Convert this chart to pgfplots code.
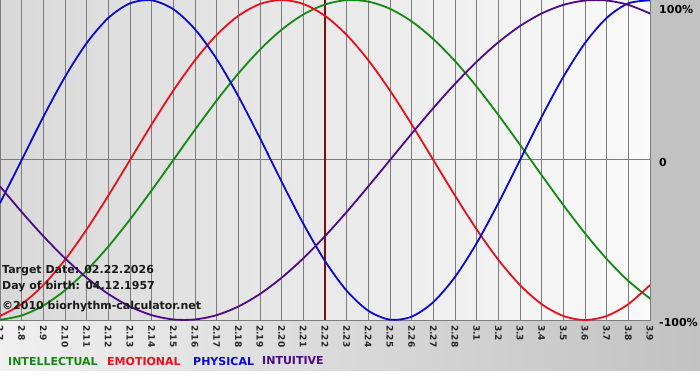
\documentclass[border=0pt]{standalone}
\usepackage{pgfplots}
\pgfplotsset{compat=1.18}
\usepackage{fontspec}
\setmainfont{DejaVu Sans}
\definecolor{cInt}{HTML}{138A13}
\definecolor{cEmo}{HTML}{E8101A}
\definecolor{cPhy}{HTML}{0A0ACC}
\definecolor{cIntu}{HTML}{4E0A86}
\definecolor{cTarget}{HTML}{7A1010}
\definecolor{gridgray}{HTML}{7C7C7C}
\begin{document}
\begin{tikzpicture}[x=1pt,y=1pt]
\fill[white] (0,0) rectangle (700,380);
\shade[left color=black!6, right color=black!24] (0,10) rectangle (700,60);
\fill[black!24] (650,60) rectangle (700,380);
\shade[left color=black!15, right color=black!2] (0,60) rectangle (650,380);
\begin{axis}[
  at={(0pt,60pt)}, anchor=south west,
  width=650pt, height=320pt, scale only axis,
  xmin=0, xmax=30, ymin=-1, ymax=1,
  axis line style={gridgray, line width=1pt},
  tick style={draw=none},
  xtick={0,...,30},
  xticklabels={2.7,2.8,2.9,2.10,2.11,2.12,2.13,2.14,2.15,2.16,2.17,2.18,2.19,2.20,2.21,2.22,2.23,2.24,2.25,2.26,2.27,2.28,3.1,3.2,3.3,3.4,3.5,3.6,3.7,3.8,3.9},
  xmajorgrids,
  ytick={-1,0},
  yticklabels={-100\%,0},
  ymajorgrids,
  extra y ticks={0.955},
  extra y tick labels={100\%},
  extra y tick style={ymajorgrids=false},
  grid style={gridgray, line width=1pt},
  yticklabel pos=right,
  yticklabel style={anchor=west, inner sep=0pt, xshift=9pt, yshift=-2pt, font=\bfseries\fontsize{11}{13}\selectfont},
  xticklabel style={rotate=-90, anchor=west, inner sep=0pt, font=\bfseries\fontsize{9}{10}\selectfont, text=black!85},
  xticklabel shift=5pt,
  /pgf/number format/assume math mode=true,
]
\addplot[cTarget, line width=2.5pt] coordinates {(15,-1) (15,1)};
% Intellectual (33 days)
\addplot[cInt, line width=1.8pt, smooth] coordinates {
(0,-0.9989)(1,-0.9718)(2,-0.9096)(3,-0.8146)(4,-0.6901)(5,-0.5406)(6,-0.3717)(7,-0.1893)
(8,0)(9,0.1893)(10,0.3717)(11,0.5406)(12,0.6901)(13,0.8146)(14,0.9096)(15,0.9718)
(16,0.9989)(17,0.9898)(18,0.9450)(19,0.8660)(20,0.7557)(21,0.6182)(22,0.4582)(23,0.2817)
(24,0.0951)(25,-0.0951)(26,-0.2817)(27,-0.4582)(28,-0.6182)(29,-0.7557)(30,-0.8660)};
% Emotional (28 days)
\addplot[cEmo, line width=1.8pt, smooth] coordinates {
(0,-0.9749)(1,-0.9010)(2,-0.7818)(3,-0.6235)(4,-0.4339)(5,-0.2225)(6,0)(7,0.2225)
(8,0.4339)(9,0.6235)(10,0.7818)(11,0.9010)(12,0.9749)(13,1)(14,0.9749)(15,0.9010)
(16,0.7818)(17,0.6235)(18,0.4339)(19,0.2225)(20,0)(21,-0.2225)(22,-0.4339)(23,-0.6235)
(24,-0.7818)(25,-0.9010)(26,-0.9749)(27,-1)(28,-0.9749)(29,-0.9010)(30,-0.7818)};
% Physical (23 days)
\addplot[cPhy, line width=1.8pt, smooth] coordinates {
(0,-0.2698)(1,0)(2,0.2698)(3,0.5196)(4,0.7308)(5,0.8879)(6,0.9791)(7,0.9977)
(8,0.9423)(9,0.8170)(10,0.6311)(11,0.3984)(12,0.1362)(13,-0.1362)(14,-0.3984)(15,-0.6311)
(16,-0.8170)(17,-0.9423)(18,-0.9977)(19,-0.9791)(20,-0.8879)(21,-0.7308)(22,-0.5196)(23,-0.2698)
(24,0)(25,0.2698)(26,0.5196)(27,0.7308)(28,0.8879)(29,0.9791)(30,0.9977)};
% Intuitive (38 days)
\addplot[cIntu, line width=1.8pt, smooth] coordinates {
(0,-0.1646)(1,-0.3247)(2,-0.4759)(3,-0.6142)(4,-0.7357)(5,-0.8372)(6,-0.9158)(7,-0.9694)
(8,-0.9966)(9,-0.9966)(10,-0.9694)(11,-0.9158)(12,-0.8372)(13,-0.7357)(14,-0.6142)(15,-0.4759)
(16,-0.3247)(17,-0.1646)(18,0)(19,0.1646)(20,0.3247)(21,0.4759)(22,0.6142)(23,0.7357)
(24,0.8372)(25,0.9158)(26,0.9694)(27,0.9966)(28,0.9966)(29,0.9694)(30,0.9158)};
\end{axis}
\begin{scope}[every node/.style={anchor=west, inner sep=0pt, font=\bfseries\fontsize{11}{13}\selectfont}]
\node[text=black!90] at (2,109) {Target Date: 02.22.2026};
\node[text=black!90] at (2,93) {Day of birth: 04.12.1957};
\node[text=black!90] at (2,73) {©2010 biorhythm-calculator.net};
\node[text=cInt] at (8,19) {INTELLECTUAL};
\node[text=cEmo] at (107,19) {EMOTIONAL};
\node[text=cPhy] at (193,19) {PHYSICAL};
\node[text=cIntu] at (262,19) {INTUITIVE};
\end{scope}
\pgfresetboundingbox
\path (0,0) rectangle (700,380);
\end{tikzpicture}
\end{document}
